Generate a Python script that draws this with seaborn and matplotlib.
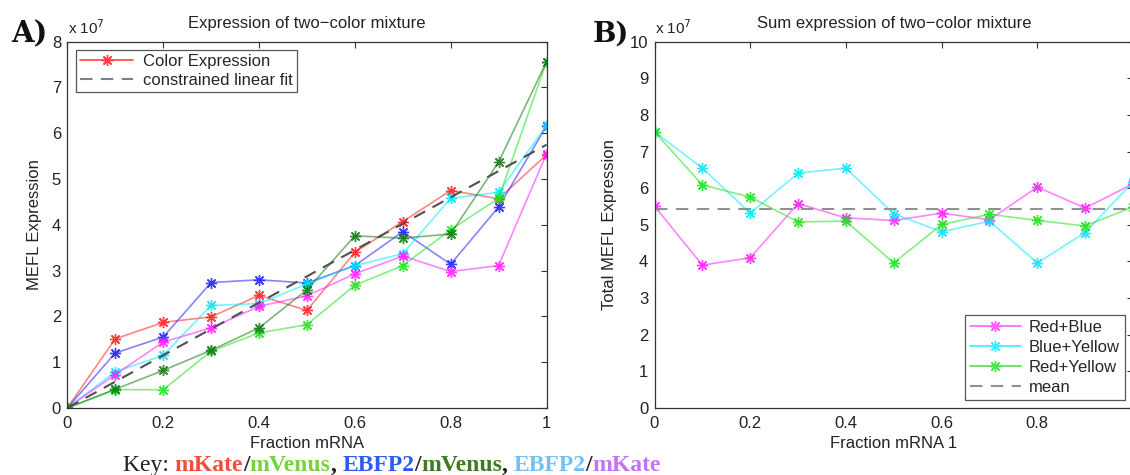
import numpy as np
import pandas as pd
import matplotlib
matplotlib.use("Agg")
import matplotlib.pyplot as plt
import seaborn as sns
from matplotlib.lines import Line2D

# ---------------- data (values in units of 1e7 MEFL) ----------------
frac = [0.0, 0.1, 0.2, 0.3, 0.4, 0.5, 0.6, 0.7, 0.8, 0.9, 1.0]

# Panel A: expression of two-color mixture
red_mkate      = [0, 1.51, 1.87, 1.99, 2.46, 2.13, 3.40, 4.07, 4.75, 4.57, 5.53]
blue_ebfp2     = [0, 1.20, 1.55, 2.74, 2.80, 2.73, 3.11, 3.85, 3.14, 4.39, 6.16]
cyan_ebfp2     = [0, 0.79, 1.15, 2.24, 2.28, 2.71, 3.11, 3.37, 4.58, 4.71, 6.17]
magenta_mkate  = [0, 0.73, 1.44, 1.75, 2.22, 2.45, 2.93, 3.32, 2.98, 3.11, 5.55]
green_mvenus   = [0, 0.40, 0.40, 1.24, 1.64, 1.82, 2.68, 3.11, 3.89, 4.58, 7.56]
dgreen_mvenus  = [0, 0.41, 0.82, 1.26, 1.75, 2.58, 3.76, 3.71, 3.80, 5.37, 7.56]
fit_x = [0.0, 1.0]
fit_y = [0.0, 5.75]

# Panel B: sum expression of two-color mixture
red_blue     = [5.51, 3.90, 4.10, 5.58, 5.19, 5.12, 5.32, 5.14, 6.03, 5.46, 6.12]
blue_yellow  = [7.54, 6.55, 5.32, 6.41, 6.55, 5.30, 4.81, 5.10, 3.96, 4.79, 6.17]
red_yellow   = [7.54, 6.09, 5.76, 5.08, 5.10, 3.96, 5.01, 5.29, 5.12, 4.97, 5.49]
mean_value   = 5.42

left_xticks = [0, 0.2, 0.4, 0.6, 0.8, 1.0]
left_xticklabels = ["0", "0.2", "0.4", "0.6", "0.8", "1"]
left_yticks = list(range(0, 9))
right_yticks = list(range(0, 11))

key_parts = [("Key: ", "#222222", "normal"),
             ("mKate", "#f0503a", "bold"), ("/", "#222222", "bold"),
             ("mVenus", "#74d43c", "bold"), (", ", "#222222", "bold"),
             ("EBFP2", "#2a5cf0", "bold"), ("/", "#222222", "bold"),
             ("mVenus", "#3c7c1e", "bold"), (", ", "#222222", "bold"),
             ("EBFP2", "#72c0f8", "bold"), ("/", "#222222", "bold"),
             ("mKate", "#c274f2", "bold")]

# ---------------- style ----------------
sns.set_style("white")
plt.rcParams["font.family"] = ["Liberation Sans", "DejaVu Sans"]
plt.rcParams["axes.unicode_minus"] = True

W, H = 1130, 475
fig = plt.figure(figsize=(W / 100, H / 100), dpi=100)

def px_axes(x0, x1, ytop, ybot):
    return [x0 / W, 1 - ybot / H, (x1 - x0) / W, (ybot - ytop) / H]

axA = fig.add_axes(px_axes(67.3, 546.5, 41.7, 408))
axB = fig.add_axes(px_axes(654.5, 1133, 41.7, 408))

AST = (8, 2, 0)
FS = 12

def series(ax, y, color, alpha=0.55):
    sns.lineplot(x=frac, y=y, ax=ax, color=color, alpha=alpha, lw=1.2,
                 errorbar=None, sort=False)
    sns.lineplot(x=frac, y=y, ax=ax, color=color, alpha=0.85, linestyle="none",
                 marker=AST, markersize=8, markeredgewidth=1.0,
                 markeredgecolor=color, errorbar=None, sort=False)

# Panel A
series(axA, red_mkate, "#ff2020")
series(axA, blue_ebfp2, "#2020ff")
series(axA, cyan_ebfp2, "#00e8ff")
series(axA, magenta_mkate, "#ff20ff")
series(axA, green_mvenus, "#20e020")
series(axA, dgreen_mvenus, "#107a10")
sns.lineplot(x=fit_x, y=fit_y, ax=axA, color="#505050", lw=1.5,
             dashes=(6, 4), errorbar=None)

# Panel B
series(axB, red_blue, "#ff20ff")
series(axB, blue_yellow, "#00e8ff")
series(axB, red_yellow, "#20e020")
sns.lineplot(x=[0, 1], y=[mean_value, mean_value], ax=axB, color="#909090",
             lw=1.5, dashes=(6, 4), errorbar=None)

for ax, yt, ymax in [(axA, left_yticks, 8), (axB, right_yticks, 10)]:
    ax.set_xlim(0, 1)
    ax.set_ylim(0, ymax)
    ax.set_xticks(left_xticks)
    ax.set_xticklabels(left_xticklabels)
    ax.set_yticks(yt)
    ax.set_yticklabels([str(v) for v in yt])
    ax.tick_params(direction="in", length=4, width=0.8, color="#333333",
                   top=True, right=True, labelsize=FS, labelcolor="#222222")
    ax.tick_params(axis="x", pad=6)
    ax.tick_params(axis="y", pad=4.5)
    for s in ax.spines.values():
        s.set_visible(True)
        s.set_color("#333333")
        s.set_linewidth(0.9)
    ax.grid(False)

axA.set_title("Expression of two\u2212color mixture", fontsize=FS, pad=10,
              color="#222222")
axB.set_title("Sum expression of two\u2212color mixture", fontsize=FS, pad=10,
              color="#222222")
axA.set_xlabel("Fraction mRNA", fontsize=FS, color="#222222", labelpad=3)
axB.set_xlabel("Fraction mRNA 1", fontsize=FS, color="#222222", labelpad=3)
axA.set_ylabel("MEFL Expression", fontsize=FS, color="#222222")
axB.set_ylabel("Total MEFL Expression", fontsize=FS, color="#222222")
axA.yaxis.set_label_coords(-0.053, 0.5)
axB.yaxis.set_label_coords(-0.079, 0.5)

# legends
hA = [Line2D([], [], color="#ff4040", lw=1.2, marker=AST, ms=8, mew=1.0),
      Line2D([], [], color="#808080", lw=1.5, dashes=(6, 4))]
legA = axA.legend(hA, ["Color Expression", "constrained linear fit"],
                  loc="upper left", bbox_to_anchor=(0.018, 0.977),
                  borderaxespad=0, fontsize=FS, frameon=True, fancybox=False,
                  framealpha=1, edgecolor="#555555", handlelength=3.2,
                  labelspacing=0.2, borderpad=0.25, handletextpad=0.6)
legA.get_frame().set_linewidth(0.9)

hB = [Line2D([], [], color="#ff60ff", lw=1.2, marker=AST, ms=8, mew=1.0),
      Line2D([], [], color="#40eaff", lw=1.2, marker=AST, ms=8, mew=1.0),
      Line2D([], [], color="#50e050", lw=1.2, marker=AST, ms=8, mew=1.0),
      Line2D([], [], color="#909090", lw=1.5, dashes=(6, 4))]
legB = axB.legend(hB, ["Red+Blue", "Blue+Yellow", "Red+Yellow", "mean"],
                  loc="lower right", bbox_to_anchor=(0.983, 0.022),
                  borderaxespad=0, fontsize=FS, frameon=True, fancybox=False,
                  framealpha=1, edgecolor="#555555", handlelength=3.05,
                  labelspacing=0.3, borderpad=0.3, handletextpad=0.5)
legB.get_frame().set_linewidth(0.9)

# exponent labels
fig.text(68 / W, 1 - 34 / H, r"x 10$^{7}$", fontsize=FS - 1, color="#222222",
         va="baseline", ha="left")
fig.text(655 / W, 1 - 34 / H, r"x 10$^{7}$", fontsize=FS - 1, color="#222222",
         va="baseline", ha="left")

# panel letters
fig.text(11 / W, 1 - 42 / H, "A)", fontsize=21, fontweight="bold",
         family=["DejaVu Serif"], va="baseline", color="#111111")
fig.text(593 / W, 1 - 42 / H, "B)", fontsize=20, fontweight="bold",
         family=["DejaVu Serif"], va="baseline", color="#111111")

# key line
fig.canvas.draw()
renderer = fig.canvas.get_renderer()
xpos = 123
for txt, col, wt in key_parts:
    t = fig.text(xpos / W, 1 - 471 / H, txt, fontsize=17, color=col,
                 fontweight=wt, family=["Liberation Serif"], va="baseline",
                 ha="left")
    bb = t.get_window_extent(renderer)
    xpos += bb.width

fig.savefig("out.png", dpi=100)
